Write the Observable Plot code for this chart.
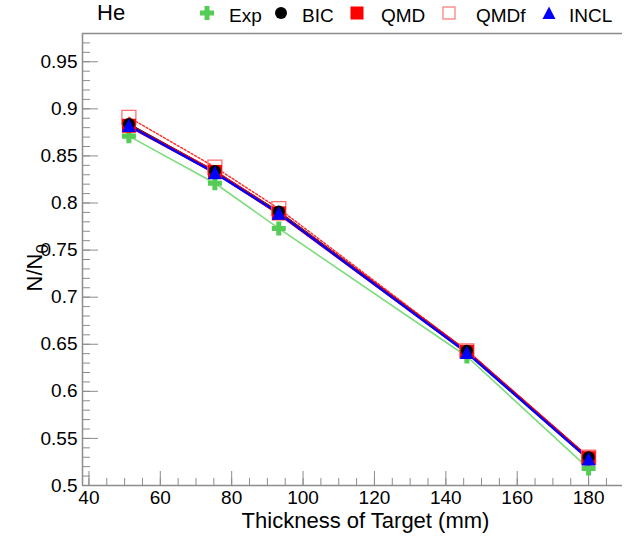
<!DOCTYPE html>
<html><head><meta charset="utf-8">
<script src="https://cdn.jsdelivr.net/npm/d3@7"></script>
<script src="https://cdn.jsdelivr.net/npm/@observablehq/plot@0.6"></script>
<style>
body{margin:0;background:#fff;font-family:"Liberation Sans",Arial,sans-serif;}
#wrap{width:626px;height:537px;position:relative;overflow:hidden;}
#legend{position:relative;width:626px;height:28px;font-size:19px;color:#000;}
#legend span{position:absolute;top:5px;line-height:22px;white-space:nowrap;}
#legend svg{position:absolute;top:6px;}
</style></head><body>
<div id="wrap"><div id="legend"></div><div id="chart"></div></div>
<script>
// Data
const thickness = [51.2, 75.3, 93.2, 145.9, 180];
const expVals  = [0.871, 0.821, 0.773, 0.637, 0.518];
const bicVals  = [0.884, 0.834, 0.791, 0.643, 0.530];
const qmdVals  = [0.882, 0.833, 0.789, 0.642, 0.529];
const qmdfVals = [0.891, 0.838, 0.794, 0.643, 0.530];
const inclVals = [0.882, 0.832, 0.789, 0.641, 0.528];
const seriesNames = ["Exp", "BIC", "QMD", "QMDf", "INCL"];
const xTicks = [40, 60, 80, 100, 120, 140, 160, 180];
const yTicks = [0.5, 0.55, 0.6, 0.65, 0.7, 0.75, 0.8, 0.85, 0.9, 0.95];
const panelTitle = "He";
const xTitle = "Thickness of Target (mm)";
const yTitleMain = "N/N";
const yTitleSub = "0";

const rows = (vals) => thickness.map((x, i) => ({x, v: vals[i]}));
const expRows = rows(expVals), bicRows = rows(bicVals), qmdRows = rows(qmdVals),
      qmdfRows = rows(qmdfVals), inclRows = rows(inclVals);

const R = (size) => Math.sqrt(size / Math.PI);
const crossSym = {draw(c, size) { const r = R(size), t = r * 0.36;
  c.moveTo(-t, -r); c.lineTo(t, -r); c.lineTo(t, -t); c.lineTo(r, -t); c.lineTo(r, t); c.lineTo(t, t);
  c.lineTo(t, r); c.lineTo(-t, r); c.lineTo(-t, t); c.lineTo(-r, t); c.lineTo(-r, -t); c.lineTo(-t, -t); c.closePath(); }};
const squareSym = {draw(c, size) { const r = R(size); c.rect(-r, -r, 2 * r, 2 * r); }};
const triSym = {draw(c, size) { const r = R(size); c.moveTo(0, -r); c.lineTo(r, r * 0.9); c.lineTo(-r, r * 0.9); c.closePath(); }};

const frameColor = "#8c8c8c";
const yMinor = d3.range(50, 99).map(i => i / 100);
const xMinor = d3.range(40, 190, 5);

const chart = Plot.plot({
  width: 626, height: 509,
  marginLeft: 82, marginTop: 5, marginBottom: 52, marginRight: 4,
  x: {domain: [38.2, 189.5]},
  y: {domain: [0.5, 0.98]},
  style: {fontFamily: '"Liberation Sans", Arial, sans-serif', fontSize: "19px", color: "#000", background: "#fff", overflow: "visible"},
  marks: [
    Plot.ruleY([0.98], {stroke: frameColor, strokeWidth: 1.5}),
    Plot.ruleY([0.5], {stroke: frameColor, strokeWidth: 1.5}),
    Plot.ruleX([38.2], {stroke: frameColor, strokeWidth: 1.5}),
    Plot.axisY(yMinor, {tickSize: -8, tickFormat: () => "", stroke: frameColor, label: null}),
    Plot.axisY(yTicks, {tickSize: -16, tickPadding: 21, tickFormat: d => String(+d.toFixed(2)), stroke: frameColor, fill: "#000", fontSize: 19, label: null}),
    Plot.axisX(xMinor, {tickSize: -7, tickFormat: () => "", stroke: frameColor, label: null}),
    Plot.axisX(xTicks, {tickSize: -14, tickPadding: 19, tickFormat: d => String(d), stroke: frameColor, fill: "#000", fontSize: 19, label: null}),
    Plot.text([yTitleMain], {text: d => d, frameAnchor: "left", dx: -48, dy: 32, rotate: -90, fontSize: 22, className: "ytitle"}),
    Plot.text([xTitle], {text: d => d, frameAnchor: "bottom", dx: 13, dy: 42, fontSize: 22}),
    // lines
    Plot.line(expRows, {x: "x", y: "v", stroke: "#7ddc7d", strokeWidth: 1.6}),
    Plot.line(bicRows, {x: "x", y: "v", stroke: "#000", strokeWidth: 1.3}),
    Plot.line(qmdfRows, {x: "x", y: "v", stroke: "#ff3030", strokeWidth: 1.5, strokeDasharray: "2,2"}),
    Plot.line(qmdRows, {x: "x", y: "v", stroke: "#ff0000", strokeWidth: 3.4}),
    Plot.line(inclRows, {x: "x", y: "v", stroke: "#0000ff", strokeWidth: 2.4}),
    // markers
    Plot.dot(expRows, {x: "x", y: "v", symbol: crossSym, r: 7, fill: "#55cc55", stroke: "none"}),
    Plot.dot(qmdfRows, {x: "x", y: "v", symbol: squareSym, r: 7, fill: "none", stroke: "#ff7070", strokeWidth: 1.3}),
    Plot.dot(qmdRows, {x: "x", y: "v", symbol: squareSym, r: 7, fill: "#ff0000", stroke: "none"}),
    Plot.dot(bicRows, {x: "x", y: "v", symbol: "circle", r: 6, fill: "#000", stroke: "none"}),
    Plot.dot(inclRows, {x: "x", y: "v", symbol: triSym, r: 7, fill: "#0000ff", stroke: "none"})
  ]
});
document.getElementById("chart").appendChild(chart);

// subscript for the y title
const yt = chart.querySelector(".ytitle text");
if (yt) {
  const sub = document.createElementNS("http://www.w3.org/2000/svg", "tspan");
  sub.setAttribute("dy", "6"); sub.setAttribute("font-size", "17");
  sub.textContent = yTitleSub;
  yt.appendChild(sub);
}

// Legend above the plot
const legend = document.getElementById("legend");
const title = document.createElement("span");
title.textContent = panelTitle; title.style.left = "97px"; title.style.fontSize = "22px"; title.style.top = "2px";
legend.appendChild(title);
const swatches = {
  Exp: '<path d="M4.5,0H9.5V4.5H14V9.5H9.5V14H4.5V9.5H0V4.5H4.5Z" fill="#55cc55"/>',
  BIC: '<circle cx="7" cy="7" r="6" fill="#000"/>',
  QMD: '<rect x="0.5" y="0.5" width="13" height="13" fill="#ff0000"/>',
  QMDf: '<rect x="1" y="1" width="12" height="12" fill="none" stroke="#ff8080" stroke-width="1.3"/>',
  INCL: '<path d="M7,0.5L13.5,13H0.5Z" fill="#0000ff"/>'
};
const symX = [200, 274, 350, 442, 542];
const txtX = [229, 302, 381, 476, 569];
seriesNames.forEach((name, i) => {
  legend.insertAdjacentHTML("beforeend", `<svg width="14" height="14" style="left:${symX[i]}px">${swatches[name]}</svg>`);
  const s = document.createElement("span");
  s.textContent = name; s.style.left = txtX[i] + "px";
  legend.appendChild(s);
});
</script>
</body></html>
